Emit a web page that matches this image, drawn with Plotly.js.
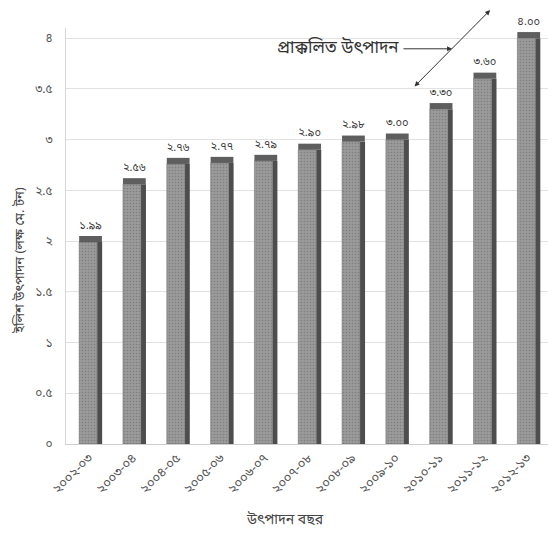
<!DOCTYPE html>
<html>
<head>
<meta charset="utf-8">
<script src="https://cdn.plot.ly/plotly-3.0.1.min.js"></script>
<style>html,body{margin:0;padding:0;background:#fff;}#chart{width:554px;height:540px;}</style>
</head>
<body>
<div id="chart"></div>
<script>
const categories = ["২০০২-০৩","২০০৩-০৪","২০০৪-০৫","২০০৫-০৬","২০০৬-০৭","২০০৭-০৮","২০০৮-০৯","২০০৯-১০","২০১০-১১","২০১১-১২","২০১২-১৩"];
const production = [1.99, 2.56, 2.76, 2.77, 2.79, 2.90, 2.98, 3.00, 3.30, 3.60, 4.00];
const valueLabels = ["১.৯৯","২.৫৬","২.৭৬","২.৭৭","২.৭৯","২.৯০","২.৯৮","৩.০০","৩.৩০","৩.৬০","৪.০০"];
const yTickVals = [0, 0.5, 1, 1.5, 2, 2.5, 3, 3.5, 4];
const yTickText = ["০","০.৫","১","১.৫","২","২.৫","৩","৩.৫","৪"];

const FONT = "'Noto Sans Bengali', 'Noto Serif Bengali', 'Lohit Bengali', 'FreeSans', 'Noto Sans', sans-serif";
const TOP_DEPTH = 0.06; // visual depth of the 3D-looking bar cap

const front = {
  type: 'bar', x: categories, y: production,
  width: 0.41, offset: -0.20,
  marker: {color: '#929292', line: {color: '#6a6a6a', width: 0.5},
           pattern: {shape: '.', fgcolor: '#7e7e7e', bgcolor: '#9a9a9a', size: 3, solidity: 0.22}},
  hoverinfo: 'skip', showlegend: false
};
const side = {
  type: 'bar', x: categories, y: production,
  width: 0.115, offset: 0.21,
  marker: {color: '#4d4d4d', line: {width: 0}},
  hoverinfo: 'skip', showlegend: false
};
const cap = {
  type: 'bar', x: categories, y: production.map(() => TOP_DEPTH), base: production,
  width: 0.52, offset: -0.20,
  marker: {color: '#5e5e5e', line: {width: 0}},
  text: valueLabels, textposition: 'outside', cliponaxis: false,
  textfont: {size: 13, color: '#3a3a3a', family: FONT},
  hoverinfo: 'skip', showlegend: false
};

const layout = {
  width: 554, height: 540,
  margin: {l: 66, r: 6, t: 28, b: 96},
  paper_bgcolor: '#fff', plot_bgcolor: '#fff',
  barmode: 'overlay',
  font: {family: FONT, color: '#555'},
  xaxis: {
    type: 'category', tickangle: -45, tickfont: {size: 13, color: '#555'},
    ticklabelshift: 1,
    showgrid: false, showline: true, linecolor: '#cfcfcf', ticks: ''
  },
  yaxis: {
    range: [0, 4.1], tickvals: yTickVals, ticktext: yTickText,
    tickfont: {size: 12, color: '#555'},
    showgrid: true, gridcolor: '#e2e2e2', zeroline: false,
    showline: true, linecolor: '#d5d5d5', ticks: '', ticklabelstandoff: 10
  },
  annotations: [
    {xref: 'paper', yref: 'paper', x: -0.096, y: 0.442, textangle: -90,
     xanchor: 'center', yanchor: 'middle', showarrow: false,
     text: 'ইলিশ উৎপাদন (লক্ষ মে. টন)', font: {size: 13, color: '#444'}},
    {xref: 'paper', yref: 'paper', x: 0.454, y: -0.183,
     xanchor: 'center', yanchor: 'middle', showarrow: false,
     text: 'উৎপাদন বছর', font: {size: 14, color: '#444'}},
    {xref: 'paper', yref: 'paper', x: 0.695, y: 0.950, xanchor: 'right', yanchor: 'middle',
     text: 'প্রাক্কলিত উৎপাদন', showarrow: false, font: {size: 17, color: '#333'}},
    {xref: 'paper', yref: 'paper', axref: 'paper', ayref: 'paper',
     x: 0.801, y: 0.950, ax: 0.697, ay: 0.950, text: '', showarrow: true,
     arrowhead: 2, arrowsize: 1, arrowwidth: 1, arrowcolor: '#333'},
    {xref: 'paper', yref: 'paper', axref: 'paper', ayref: 'paper',
     x: 0.880, y: 1.043, ax: 0.720, ay: 0.856, text: '', showarrow: true,
     arrowhead: 2, startarrowhead: 2, arrowside: 'end+start', arrowsize: 1, arrowwidth: 1, arrowcolor: '#333'}
  ]
};

Plotly.newPlot('chart', [side, front, cap], layout, {staticPlot: true, displayModeBar: false});
</script>
</body>
</html>
